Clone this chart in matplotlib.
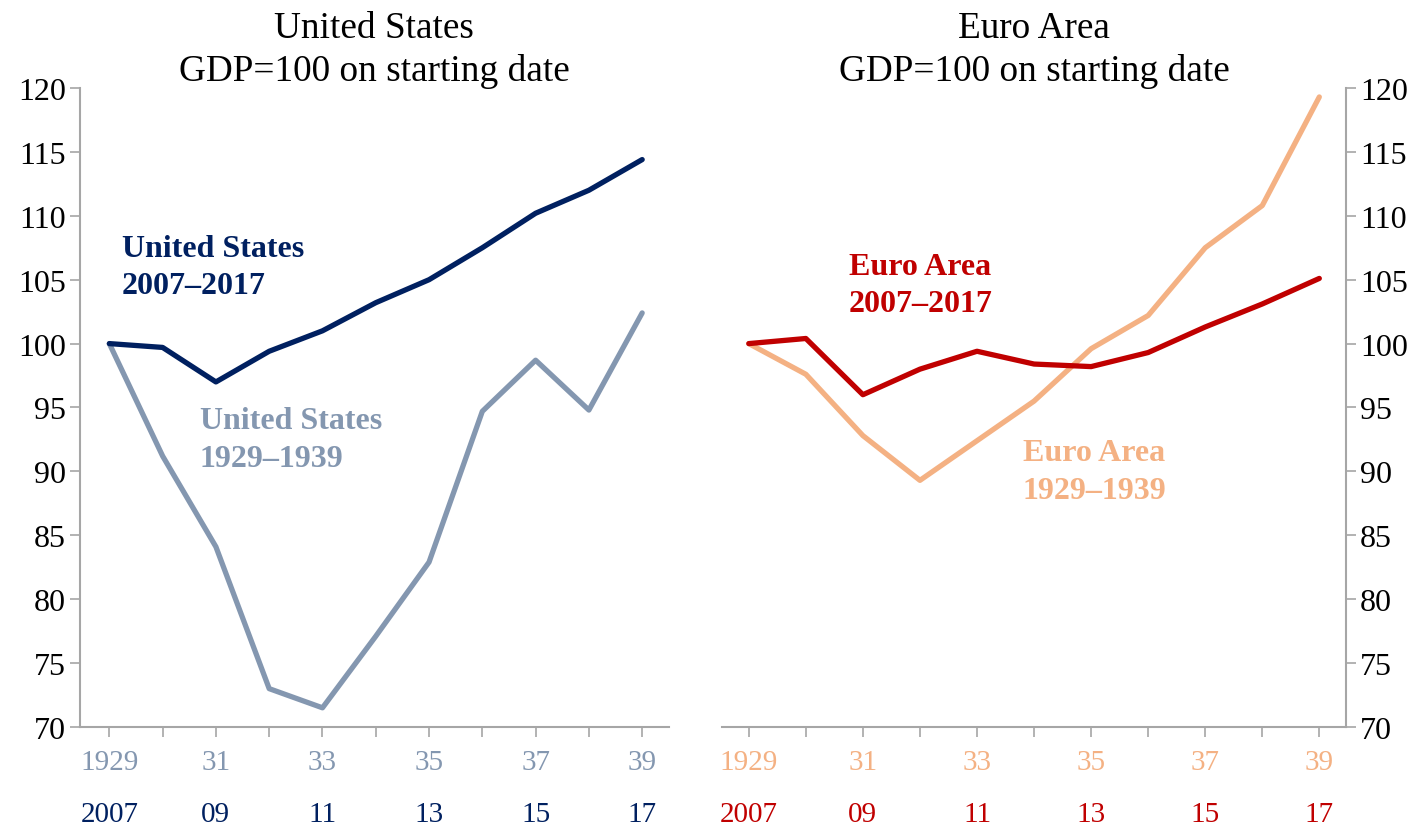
import matplotlib
matplotlib.use("Agg")
import matplotlib.pyplot as plt

# ---- data ----
positions = list(range(11))
us_2007 = [100, 99.7, 97.0, 99.4, 101.0, 103.2, 105.0, 107.5, 110.2, 112.0, 114.4]
us_1929 = [100, 91.2, 84.1, 73.0, 71.5, 77.1, 82.9, 94.7, 98.7, 94.8, 102.4]
ea_2007 = [100, 100.4, 96.0, 98.0, 99.4, 98.4, 98.2, 99.3, 101.3, 103.1, 105.1]
ea_1929 = [100, 97.6, 92.8, 89.3, 92.4, 95.5, 99.6, 102.2, 107.5, 110.8, 119.3]
row1_labels = ["1929", "31", "33", "35", "37", "39"]
row2_labels = ["2007", "09", "11", "13", "15", "17"]
label_pos = [0, 2, 4, 6, 8, 10]
yticks = [70, 75, 80, 85, 90, 95, 100, 105, 110, 115, 120]

c_us07 = "#002060"
c_us29 = "#8497B0"
c_ea07 = "#C00000"
c_ea29 = "#F4B183"
c_axis = "#A6A6A6"

plt.rcParams['font.family'] = ['Liberation Serif', 'DejaVu Serif']

fig = plt.figure(figsize=(14.14, 8.28), dpi=100)
axL = fig.add_axes([0.0566, 0.1208, 0.4164, 0.7717])
axR = fig.add_axes([0.5106, 0.1208, 0.4414, 0.7717])

def style(ax, side, c1, c2):
    ax.set_ylim(70, 120)
    ax.set_yticks(yticks)
    ax.set_xticks(positions)
    ax.set_xticklabels([])
    for s in ax.spines.values():
        s.set_visible(False)
    ax.spines['bottom'].set_visible(True)
    ax.spines['bottom'].set_color(c_axis)
    ax.spines['bottom'].set_linewidth(1.5)
    ax.spines[side].set_visible(True)
    ax.spines[side].set_color(c_axis)
    ax.spines[side].set_linewidth(1.5)
    ax.tick_params(axis='x', direction='out', length=7, width=1.2, color=c_axis)
    ax.tick_params(axis='y', direction='out', length=7, width=1.2, color=c_axis,
                   labelsize=23, pad=3)
    if side == 'right':
        ax.yaxis.tick_right()
        ax.yaxis.set_label_position('right')
    tr = ax.get_xaxis_transform()
    for p, l in zip(label_pos, row1_labels):
        ax.text(p, -0.055, l, transform=tr, ha='center', va='center',
                fontsize=21, color=c1)
    for p, l in zip(label_pos, row2_labels):
        ax.text(p, -0.136, l, transform=tr, ha='center', va='center',
                fontsize=21, color=c2)

axL.plot(positions, us_1929, color=c_us29, lw=3.8, solid_capstyle='round')
axL.plot(positions, us_2007, color=c_us07, lw=3.8, solid_capstyle='round')
axL.set_xlim(-0.55, 10.5)
style(axL, 'left', c_us29, c_us07)
axL.set_title("United States\nGDP=100 on starting date", fontsize=26.8, pad=1,
              linespacing=1.3)
axL.text(0.23, 106.0, "United States\n2007\u20132017", fontsize=23, fontweight='bold',
         color=c_us07, va='center', ha='left', linespacing=1.38)
axL.text(1.7, 92.5, "United States\n1929\u20131939", fontsize=23, fontweight='bold',
         color=c_us29, va='center', ha='left', linespacing=1.38)

axR.plot(positions, ea_1929, color=c_ea29, lw=3.8, solid_capstyle='round')
axR.plot(positions, ea_2007, color=c_ea07, lw=3.8, solid_capstyle='round')
axR.set_xlim(-0.47, 10.47)
style(axR, 'right', c_ea29, c_ea07)
axR.set_title("Euro Area\nGDP=100 on starting date", fontsize=26.8, pad=1,
              linespacing=1.3)
axR.text(1.75, 104.6, "Euro Area\n2007\u20132017", fontsize=23, fontweight='bold',
         color=c_ea07, va='center', ha='left', linespacing=1.38)
axR.text(4.8, 90.0, "Euro Area\n1929\u20131939", fontsize=23, fontweight='bold',
         color=c_ea29, va='center', ha='left', linespacing=1.38)

fig.savefig("out.png", dpi=100)
